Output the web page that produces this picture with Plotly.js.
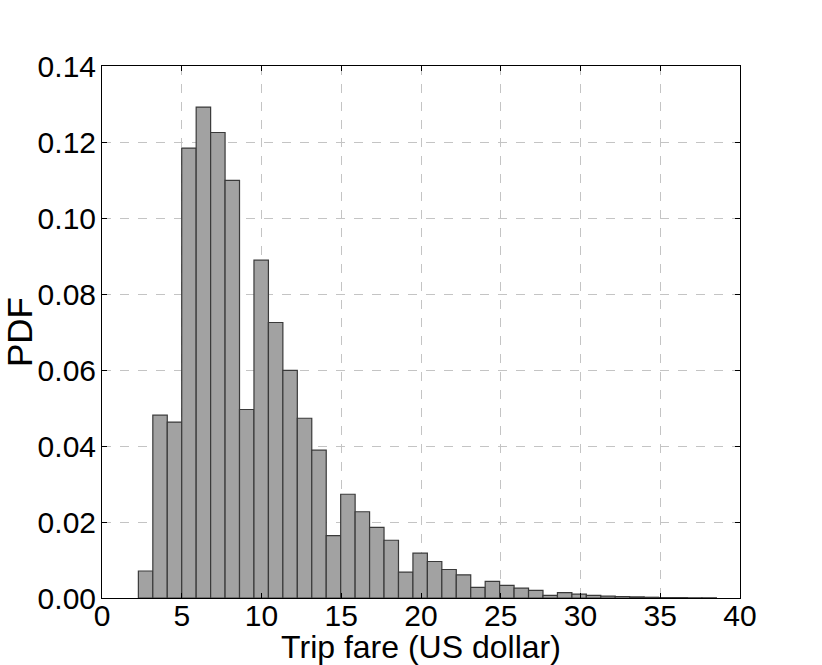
<!DOCTYPE html>
<html>
<head>
<meta charset="utf-8">
<script src="https://cdn.plot.ly/plotly-3.0.1.min.js"></script>
<style>html,body{margin:0;padding:0;background:#fff;}#chart{width:822px;height:665px;}</style>
</head>
<body>
<div id="chart"></div>
<script>
// Histogram bins (US dollar)
const binStart = 2.28;
const binWidth = 0.906;
// PDF value of each bin
const pdfValues = [
  0.0071, 0.0481, 0.0463, 0.1184, 0.1292, 0.1225, 0.1099, 0.0496, 0.0889, 0.0725,
  0.0599, 0.0473, 0.0389, 0.0164, 0.0273, 0.0227, 0.0186, 0.0152, 0.0068, 0.0118,
  0.0096, 0.0075, 0.0061, 0.0028, 0.0044, 0.0033, 0.0026, 0.0020, 0.0007, 0.0014,
  0.0010, 0.0007, 0.0005, 0.0004, 0.0003, 0.0002, 0.0001, 0.0001, 0.00005, 0.00005
];
const xTicks = [0, 5, 10, 15, 20, 25, 30, 35, 40];
const yTicks = [0, 0.02, 0.04, 0.06, 0.08, 0.10, 0.12, 0.14];
const yTickLabels = ["0.00", "0.02", "0.04", "0.06", "0.08", "0.10", "0.12", "0.14"];

const centers = pdfValues.map((v, i) => binStart + binWidth * (i + 0.5));

const fam = "Liberation Sans, Arial, sans-serif";
const tickFont = {family: fam, size: 30, color: "#000"};

const trace = {
  type: "bar",
  x: centers,
  y: pdfValues,
  width: pdfValues.map(() => binWidth),
  marker: {color: "#a2a2a2", line: {color: "#3a3a3a", width: 1.2}},
  hoverinfo: "skip"
};

const axisCommon = {
  showline: true, mirror: "ticks", linecolor: "#000", linewidth: 1,
  ticks: "inside", ticklen: 5, tickcolor: "#000", tickwidth: 1,
  showgrid: true, gridcolor: "#c4c4c4", griddash: "dash", gridwidth: 1,
  zeroline: false, tickfont: tickFont
};

const layout = {
  width: 822, height: 665,
  margin: {l: 102, r: 82, t: 66, b: 67},
  paper_bgcolor: "#fff", plot_bgcolor: "#fff",
  bargap: 0,
  showlegend: false,
  font: tickFont,
  xaxis: Object.assign({}, axisCommon, {
    range: [0, 40], tickvals: xTicks, ticktext: xTicks.map(String),
    ticklabelstandoff: -9,
    title: {text: "Trip fare (US dollar)", font: {family: fam, size: 32, color: "#000"}, standoff: 7}
  }),
  yaxis: Object.assign({}, axisCommon, {
    range: [0, 0.14], tickvals: yTicks, ticktext: yTickLabels,
    ticklabelstandoff: -1,
    title: {text: "PDF", font: {family: fam, size: 35, color: "#000"}, standoff: 3}
  })
};

Plotly.newPlot("chart", [trace], layout, {displayModeBar: false, staticPlot: true});
</script>
</body>
</html>
